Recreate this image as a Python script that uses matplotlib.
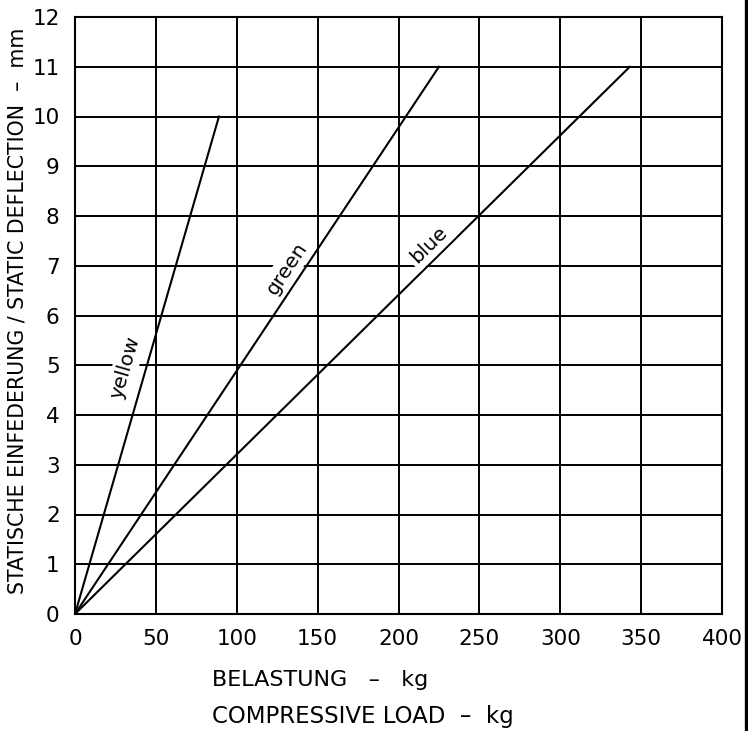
import matplotlib.pyplot as plt
import numpy as np

# Load/deflection curves for the three spring grades (kg, mm)
grades = ["yellow", "green", "blue"]
load_end = [89, 225, 343]
deflection_end = [10, 11, 11]

# label anchor points along each curve (data coords)
label_xy = [(31, 4.95), (131, 6.95), (219, 7.42)]

x_ticks = [0, 50, 100, 150, 200, 250, 300, 350, 400]
y_ticks = list(range(0, 13))

W, H = 748, 731
fig = plt.figure(figsize=(W / 100, H / 100), dpi=100)
ax = fig.add_axes([75 / W, (H - 614) / H, 647 / W, 597 / H])

ax.set_xlim(0, 400)
ax.set_ylim(0, 12)
ax.set_xticks(x_ticks)
ax.set_yticks(y_ticks)
ax.tick_params(length=0, labelsize=15.5)
ax.tick_params(axis="x", pad=11)
ax.tick_params(axis="y", pad=11)
ax.grid(True, color="black", linewidth=1.4)
ax.set_axisbelow(True)
for sp in ax.spines.values():
    sp.set_linewidth(1.5)

for name, x1, y1, (lx, ly) in zip(grades, load_end, deflection_end, label_xy):
    ax.plot([0, x1], [0, y1], color="black", linewidth=1.5, zorder=3)
    p0 = ax.transData.transform((0, 0))
    p1 = ax.transData.transform((x1, y1))
    angle = np.degrees(np.arctan2(p1[1] - p0[1], p1[0] - p0[0]))
    ax.text(lx, ly, name, rotation=angle, rotation_mode="anchor",
            ha="center", va="center", fontsize=14.5, zorder=4,
            bbox=dict(facecolor="white", edgecolor="none", pad=2.5))

fig.text(18 / W, 1 - 311 / H, "STATISCHE EINFEDERUNG / STATIC DEFLECTION  –  mm",
         rotation=90, ha="center", va="center", fontsize=14.8)
fig.text(212 / W, 1 - 680 / H, "BELASTUNG   –   kg", ha="left", va="center", fontsize=16)
fig.text(212 / W, 1 - 716 / H, "COMPRESSIVE LOAD  –  kg", ha="left", va="center", fontsize=16.5)

# drawing frame edge on the right
fig.add_artist(plt.Line2D([745.5 / W, 745.5 / W], [0, 1], color="black", linewidth=2.4,
                          transform=fig.transFigure))

fig.savefig("out.png", dpi=100)
